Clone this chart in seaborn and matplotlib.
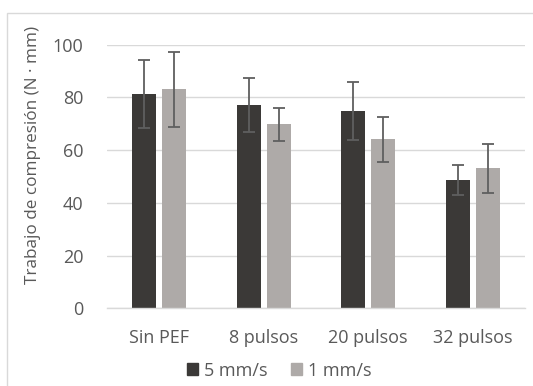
import pandas as pd
import matplotlib.pyplot as plt
import matplotlib.patches as mpatches
import seaborn as sns

# Datos
categorias = ["Sin PEF", "8 pulsos", "20 pulsos", "32 pulsos"]
series = ["5 mm/s", "1 mm/s"]
valores_5 = [81.3, 77.1, 74.8, 48.7]
valores_1 = [83.1, 69.8, 64.0, 53.0]
error_5 = [13.0, 10.3, 11.1, 5.8]
error_1 = [14.2, 6.3, 8.7, 9.2]

colores = ["#3b3937", "#aeaaa8"]
gris_texto = "#595959"
fs = 13

df = pd.DataFrame({
    "categoria": categorias * 2,
    "serie": [series[0]] * 4 + [series[1]] * 4,
    "valor": valores_5 + valores_1,
    "error": error_5 + error_1,
})

sns.set_style("white")
plt.rcParams['font.family'] = ['Open Sans', 'DejaVu Sans']

fig = plt.figure(figsize=(5.33, 3.86), dpi=100)
ax = fig.add_axes([107 / 533, 1 - 308.3 / 386, 418 / 533, 263.8 / 386])

# Borde del área del gráfico (estilo Excel)
fig.patches.append(mpatches.Rectangle((7 / 533, -0.1), 1.2, 1 - 13 / 386 + 0.1,
                                      transform=fig.transFigure, fill=False,
                                      edgecolor="#d9d9d9", linewidth=1.0))

sns.barplot(data=df, x="categoria", y="valor", hue="serie", palette=colores,
            width=0.57, gap=0.2, errorbar=None, ax=ax, legend=False,
            saturation=1, edgecolor="none")

# Barras de error sobre el centro de cada barra
for container, errs in zip(ax.containers, [error_5, error_1]):
    for bar, e in zip(container, errs):
        xc = bar.get_x() + bar.get_width() / 2
        ax.errorbar(xc, bar.get_height(), yerr=e, color="#5f5f5f",
                    elinewidth=1.3, capsize=4.4, capthick=1.3)

ax.set_ylim(0, 100)
ax.set_xlim(-0.5, 3.5)
ax.set_yticks([0, 20, 40, 60, 80, 100])
ax.yaxis.grid(True, color="#d9d9d9", linewidth=1.0)
ax.set_axisbelow(True)
for s in ["top", "right", "left"]:
    ax.spines[s].set_visible(False)
ax.spines["bottom"].set_color("#d9d9d9")
ax.spines["bottom"].set_linewidth(1.0)

ax.tick_params(axis="y", length=0, pad=17, labelsize=fs, labelcolor=gris_texto)
ax.tick_params(axis="x", length=0, pad=15, labelsize=fs, labelcolor=gris_texto)
ax.set_xlabel("")
ax.set_ylabel("Trabajo de compresión (N · mm)", fontsize=12.3, color=gris_texto)
ax.yaxis.set_label_coords(-0.177, 0.581)
ax.yaxis.label.set_va("center")

handles = [mpatches.Patch(color=c, label=s) for c, s in zip(colores, series)]
fig.legend(handles=handles, loc="center", bbox_to_anchor=(279 / 533, 1 - 370.7 / 386),
           ncol=2, frameon=False, fontsize=fs, labelcolor=gris_texto,
           handlelength=0.65, handleheight=0.65, handletextpad=0.3, columnspacing=1.3)

plt.savefig("out.png", dpi=100)
